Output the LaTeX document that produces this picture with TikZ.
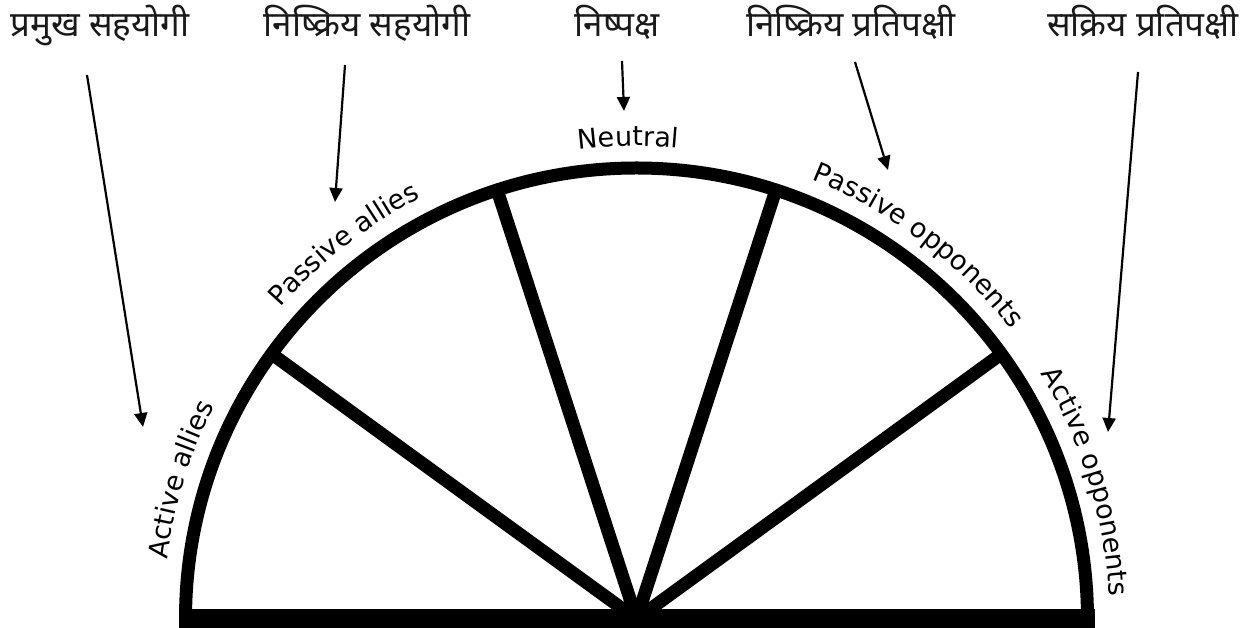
\documentclass[tikz,border=0pt]{standalone}
\usepackage{fontspec}
\setmainfont{DejaVu Sans}
\newfontfamily\deva[Script=Devanagari]{Noto Sans}
\newfontfamily\arcfont{DejaVu Sans}
\usetikzlibrary{arrows.meta,decorations.text}
\tikzset{
  hindi/.style={anchor=base, inner sep=0pt, font=\deva\fontsize{35}{38}\selectfont, text=black!90},
  pointer/.style={line width=2.2pt, -{Triangle[width=13pt,length=14pt]}},
  heavy/.style={line width=13pt},
  arclabel/.style={color=black!75, decorate, decoration={text along path, text align=center, text={|\arcfont\fontsize{27}{30}\selectfont|#1}}}
}
\begin{document}
\begin{tikzpicture}[x=1pt,y=1pt]
\useasboundingbox (0,0) rectangle (1254,628);
\coordinate (O) at (636.5,9);
% half disc
\fill[black] (178.5,0) rectangle (1094.5,19);
\draw[heavy] (O) ++(180:451) coordinate (L) arc[start angle=180,end angle=0,radius=451] coordinate (R);
\foreach \a/\n in {36/s4,72/s3,108/s2,144/s1}{
  \path (O) ++(\a:451) coordinate (\n);
  \draw[heavy] (O) -- (\n);
}
% arc labels
\path[arclabel={Active allies}] (O) ++(193:473) arc[start angle=193,end angle=133,radius=473];
\path[arclabel={Passive allies}] (O) ++(158:473) arc[start angle=158,end angle=98,radius=473];
\path[arclabel={Neutral}] (O) ++(121:473) arc[start angle=121,end angle=61,radius=473];
\path[arclabel={Passive opponents}] (O) ++(83:473) arc[start angle=83,end angle=23,radius=473];
\path[arclabel={Active opponents}] (O) ++(47:473) arc[start angle=47,end angle=-13,radius=473];
% hindi labels
\node[hindi] (h1) at (100,591) {प्रमुख सहयोगी};
\node[hindi] (h2) at (367,591) {निष्क्रिय सहयोगी};
\node[hindi] (h3) at (617,591) {निष्पक्ष};
\node[hindi] (h4) at (851,591) {निष्क्रिय प्रतिपक्षी};
\node[hindi] (h5) at (1143,591) {सक्रिय प्रतिपक्षी};
% arrows
\coordinate (a1s) at (87,553);   \coordinate (a1e) at (143,201);
\coordinate (a2s) at (345,563);  \coordinate (a2e) at (335,426);
\coordinate (a3s) at (622,567);  \coordinate (a3e) at (624,517);
\coordinate (a4s) at (855,566);  \coordinate (a4e) at (888,458);
\coordinate (a5s) at (1138,556); \coordinate (a5e) at (1108,196);
\foreach \i in {1,...,5}{\draw[pointer] (a\i s) -- (a\i e);}
\end{tikzpicture}
\end{document}
